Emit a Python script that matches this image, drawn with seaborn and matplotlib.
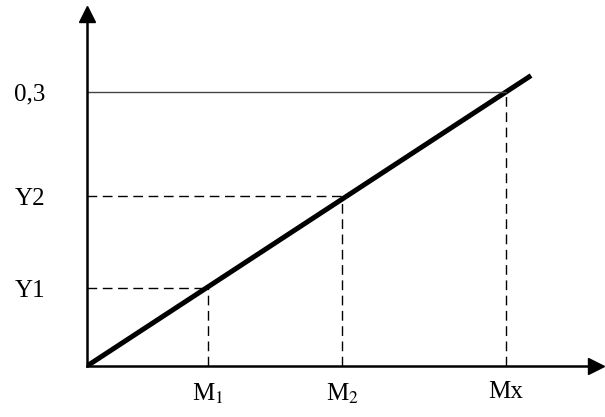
import matplotlib
matplotlib.use("Agg")
import matplotlib.pyplot as plt
import seaborn as sns
import pandas as pd

# Data (in chart units)
x_marks = [0.289, 0.609, 1.0]          # M1, M2, Mx
y_marks = [0.085, 0.186, 0.3]          # Y1, Y2, 0,3
x_labels = ["M$_1$", "M$_2$", "Mx"]
y_labels = ["Y1", "Y2", "0,3"]
line_x = [0.0, 1.06]
line_y = [0.0, 0.318]

sns.set_style("white")
plt.rcParams["font.family"] = ["Liberation Serif", "DejaVu Serif"]
plt.rcParams["mathtext.fontset"] = "stix"

fig = plt.figure(figsize=(6.05, 4.17), dpi=100)
ax = fig.add_axes([87 / 605, 51 / 417, 509 / 605, 352 / 417])

df = pd.DataFrame({"x": line_x, "y": line_y})
sns.lineplot(data=df, x="x", y="y", color="black", linewidth=3.6, ax=ax,
             solid_capstyle="butt")

# guide lines
for i, (xm, ym) in enumerate(zip(x_marks, y_marks)):
    ax.plot([xm, xm], [0, ym], color="black", linewidth=1.0,
            linestyle=(0, (7, 4)))
    if i < 2:
        ax.plot([0, xm], [ym, ym], color="black", linewidth=1.0,
                linestyle=(0, (7, 4)))
    else:
        ax.plot([0, xm], [ym, ym], color="#444444", linewidth=1.0)

ax.set_xlim(0, 1.215)
ax.set_ylim(0, 0.3854)

for s in ["top", "right"]:
    ax.spines[s].set_visible(False)
for s in ["left", "bottom"]:
    ax.spines[s].set_color("black")
    ax.spines[s].set_linewidth(1.8)

# arrow heads
ax.plot(1, 0, ">", color="black", markersize=12, transform=ax.get_yaxis_transform(), clip_on=False)
ax.plot(0, 1, "^", color="black", markersize=12, transform=ax.get_xaxis_transform(), clip_on=False)

ax.set_xticks(x_marks, x_labels)
ax.set_yticks(y_marks, y_labels)
ax.tick_params(axis="both", length=0, labelsize=18, colors="black")
ax.tick_params(axis="x", pad=11)
ax.tick_params(axis="y", pad=30)
ax.set_xlabel("")
ax.set_ylabel("")

fig.savefig("out.png", dpi=100)
